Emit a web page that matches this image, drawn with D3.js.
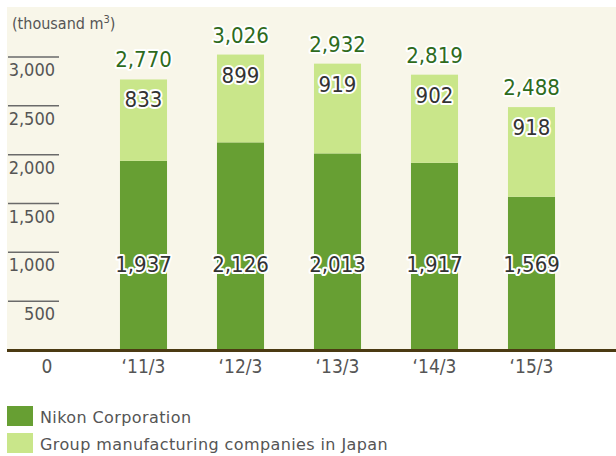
<!DOCTYPE html>
<html lang="en">
<head>
	<meta charset="UTF-8">
	<title>Water use</title>
	<style>
		body { margin: 0; background: #fff; }
		text { font-family: "DejaVu Sans Condensed", "DejaVu Sans", sans-serif; font-stretch: condensed; }
	</style>
</head>
<body>
	<svg width=616 height=456 id="viz"></svg>

	<script src="https://d3js.org/d3.v7.min.js"></script>
	<script>
	// values in thousand m3
	const years = ["\u201811/3", "\u201812/3", "\u201813/3", "\u201814/3", "\u201815/3"];
	const nikon = [1937, 2126, 2013, 1917, 1569];
	const group = [833, 899, 919, 902, 918];
	const totals = [2770, 3026, 2932, 2819, 2488];
	const yTicks = [500, 1000, 1500, 2000, 2500, 3000];
	const seriesNames = ["Nikon Corporation", "Group manufacturing companies in Japan"];
	const colors = ["#679f33", "#c9e68a"];

	const svg = d3.select("#viz");
	const fmt = d3.format(",");

	const x = d3.scaleBand()
		.domain(years)
		.range([95, 580])
		.paddingInner(0.515)
		.paddingOuter(0.2575);

	const y = d3.scaleLinear()
		.domain([0, 3000])
		.range([350, 57]);

	// cream panel
	svg.append("rect")
		.attr("x", 7).attr("y", 7)
		.attr("width", 609).attr("height", y(0) - 7)
		.style("fill", "#f8f6e9");

	// unit
	const unit = svg.append("text")
		.attr("x", 12).attr("y", 29)
		.style("font-size", "16px")
		.style("fill", "#555");
	unit.append("tspan").text("(thousand m");
	unit.append("tspan").attr("dy", -6).style("font-size", "11px").text("3");
	unit.append("tspan").attr("dy", 6).text(")");

	// y ticks: short line with label underneath
	const ticks = svg.selectAll(".tick").data(yTicks).enter().append("g").attr("class", "tick");
	ticks.append("line")
		.attr("x1", 8).attr("x2", 59)
		.attr("y1", d => y(d)).attr("y2", d => y(d))
		.style("stroke", "#6a6a6a").style("stroke-width", 1.5);
	ticks.append("text")
		.attr("x", 55).attr("y", d => y(d) + 19)
		.attr("text-anchor", "end")
		.style("font-size", "18px")
		.style("fill", "#555")
		.text(d => fmt(d));

	svg.append("text")
		.attr("x", 47).attr("y", 373)
		.attr("text-anchor", "middle")
		.style("font-size", "19px")
		.style("fill", "#555")
		.text("0");

	// stacked bars
	svg.selectAll(".bar-n").data(nikon).enter().append("rect")
		.attr("class", "bar-n")
		.attr("x", (d, i) => x(years[i]))
		.attr("y", d => y(d))
		.attr("width", x.bandwidth())
		.attr("height", d => y(0) - y(d))
		.style("fill", colors[0]);

	svg.selectAll(".bar-g").data(group).enter().append("rect")
		.attr("class", "bar-g")
		.attr("x", (d, i) => x(years[i]))
		.attr("y", (d, i) => y(nikon[i] + d))
		.attr("width", x.bandwidth())
		.attr("height", (d, i) => y(nikon[i]) - y(nikon[i] + d))
		.style("fill", colors[1]);

	// baseline
	svg.append("line")
		.attr("x1", 7).attr("x2", 616)
		.attr("y1", y(0) + 0.5).attr("y2", y(0) + 0.5)
		.style("stroke", "#4b3a12").style("stroke-width", 3);

	function halo(sel) {
		sel.attr("text-anchor", "middle")
			.style("paint-order", "stroke")
			.style("stroke", "#fff")
			.style("stroke-width", 4)
			.style("stroke-linejoin", "round");
	}

	// totals above bars
	svg.selectAll(".lbl-t").data(totals).enter().append("text")
		.attr("class", "lbl-t")
		.attr("x", (d, i) => x(years[i]) + x.bandwidth() / 2)
		.attr("y", (d, i) => y(nikon[i] + group[i]) - 12)
		.style("font-size", "22px")
		.style("fill", "#2e6b1d")
		.text(d => fmt(d))
		.call(halo);

	// group value near top of bar
	svg.selectAll(".lbl-g").data(group).enter().append("text")
		.attr("class", "lbl-g")
		.attr("x", (d, i) => x(years[i]) + x.bandwidth() / 2)
		.attr("y", (d, i) => y(nikon[i] + d) + 28)
		.style("font-size", "22px")
		.style("fill", "#333")
		.text(d => fmt(d))
		.call(halo);

	// nikon value on a common line
	svg.selectAll(".lbl-n").data(nikon).enter().append("text")
		.attr("class", "lbl-n")
		.attr("x", (d, i) => x(years[i]) + x.bandwidth() / 2)
		.attr("y", y(800))
		.style("font-size", "22px")
		.style("fill", "#333")
		.text(d => fmt(d))
		.call(halo);

	// x labels
	svg.selectAll(".xl").data(years).enter().append("text")
		.attr("class", "xl")
		.attr("x", d => x(d) + x.bandwidth() / 2)
		.attr("y", 373)
		.attr("text-anchor", "middle")
		.style("font-size", "19px")
		.style("fill", "#555")
		.text(d => d);

	// legend
	const leg = svg.selectAll(".leg").data(seriesNames).enter().append("g")
		.attr("class", "leg")
		.attr("transform", (d, i) => "translate(7," + (406 + i * 27) + ")");
	leg.append("rect")
		.attr("width", 26).attr("height", 20)
		.style("fill", (d, i) => colors[i]);
	leg.append("text")
		.attr("x", 33).attr("y", 17)
		.style("font-family", "'DejaVu Sans', sans-serif")
		.style("font-stretch", "normal")
		.style("font-size", "16px")
		.style("letter-spacing", "0.4px")
		.style("fill", "#555")
		.text(d => d);
	</script>
</body>
</html>
